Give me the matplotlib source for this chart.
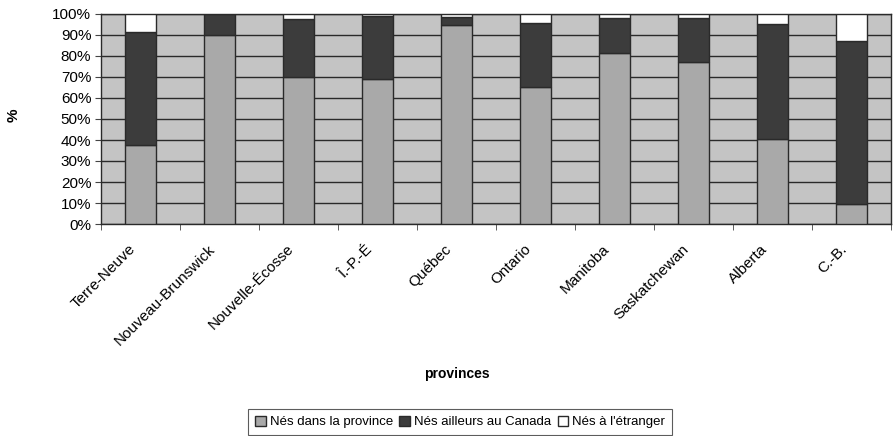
import matplotlib
matplotlib.use("Agg")
import matplotlib.pyplot as plt
import matplotlib.transforms as mtransforms
import numpy as np
from matplotlib.patches import Patch

provinces = ["Terre-Neuve", "Nouveau-Brunswick", "Nouvelle-Écosse", "Î.-P.-É", "Québec",
             "Ontario", "Manitoba", "Saskatchewan", "Alberta", "C.-B."]
nes_province = [37.5, 90.0, 70.0, 69.0, 94.8, 65.1, 81.3, 77.0, 40.3, 9.4]
nes_canada = [53.8, 10.0, 27.8, 30.2, 3.9, 30.8, 16.7, 21.0, 54.8, 77.9]
nes_etranger = [8.7, 0.0, 2.2, 0.8, 1.3, 4.1, 2.0, 2.0, 4.9, 12.7]
legend_labels = ["Nés dans la province", "Nés ailleurs au Canada", "Nés à l'étranger"]

plt.rcParams['font.family'] = ['Liberation Sans', 'DejaVu Sans']

fig = plt.figure(figsize=(8.95, 4.36), dpi=100)
ax = fig.add_axes([101/895, (436-224)/436, 790/895, 210/436])

bg = "#c4c4c4"
c_prov = "#a9a9a9"
c_can = "#3c3c3c"
c_etr = "#ffffff"
edge = "#2a2a2a"

ax.set_facecolor(bg)
x = np.arange(len(provinces))
w = 0.4
p = np.array(nes_province)
c = np.array(nes_canada)
e = np.array(nes_etranger)
ax.bar(x, p, w, color=c_prov, edgecolor=edge, linewidth=1.0, zorder=3)
ax.bar(x, c, w, bottom=p, color=c_can, edgecolor=edge, linewidth=1.0, zorder=3)
ax.bar(x, e, w, bottom=p + c, color=c_etr, edgecolor=edge, linewidth=1.0, zorder=3)

ax.set_xlim(-0.5, len(provinces) - 0.5)
ax.set_ylim(0, 100)
ax.set_yticks(np.arange(0, 101, 10))
ax.set_yticklabels([f"{v}%" for v in range(0, 101, 10)], fontsize=11)
ax.yaxis.grid(True, color="#2a2a2a", linewidth=1.0, zorder=1)
ax.set_axisbelow(True)

ax.set_xticks(x)
ax.set_xticklabels(provinces, rotation=45, ha='right', rotation_mode='anchor', fontsize=11)
ax.tick_params(axis='x', which='major', length=0, pad=13)
ax.set_xticks(np.arange(-0.5, len(provinces), 1.0), minor=True)
ax.tick_params(axis='x', which='minor', length=4, color="#444444")
ax.tick_params(axis='y', length=4, color="#444444", pad=3)

offset = mtransforms.ScaledTranslation(-12/100, 0, fig.dpi_scale_trans)
for lab in ax.get_xticklabels():
    lab.set_transform(lab.get_transform() + offset)

for s in ax.spines.values():
    s.set_color("#2a2a2a")
    s.set_linewidth(1.0)

fig.text(14/895, 1 - 115/436, "%", rotation=90, fontsize=11, fontweight='bold',
         ha='center', va='center')
fig.text(457/895, 1 - 374/436, "provinces", fontsize=10, fontweight='bold',
         ha='center', va='center')

handles = [Patch(facecolor=c_prov, edgecolor=edge),
           Patch(facecolor=c_can, edgecolor=edge),
           Patch(facecolor=c_etr, edgecolor=edge)]
leg = fig.legend(handles, legend_labels, loc='center', bbox_to_anchor=(460/895, 1 - 422/436),
                 ncol=3, fontsize=9.5, frameon=True, fancybox=False, handlelength=0.8,
                 handleheight=0.8, handletextpad=0.3, columnspacing=0.5,
                 borderpad=0.5, borderaxespad=0)
leg.get_frame().set_edgecolor("#333333")
leg.get_frame().set_linewidth(0.8)

fig.savefig("out.png", dpi=100)
